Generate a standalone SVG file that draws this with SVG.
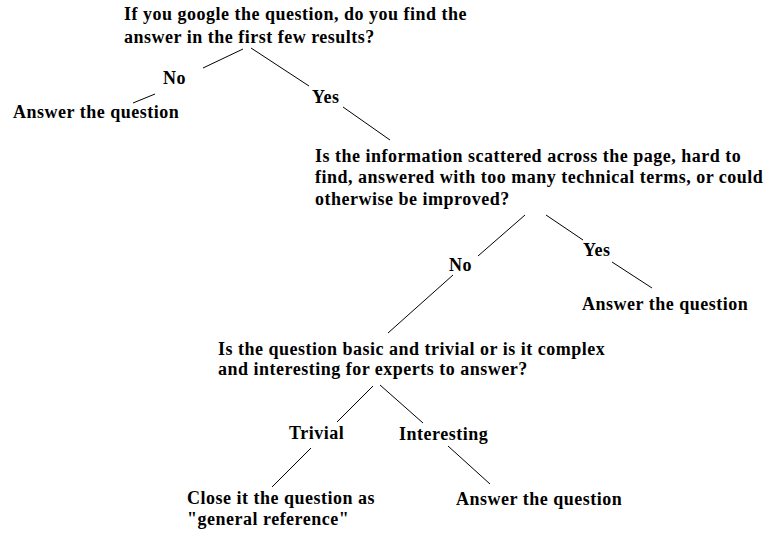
<svg xmlns="http://www.w3.org/2000/svg" width="770" height="537" viewBox="0 0 770 537">
<style>
text{font-family:"Liberation Serif","Times New Roman",serif;font-weight:bold;font-size:18px;fill:#000;letter-spacing:0.5px}
.c line{stroke:#000;stroke-width:1;fill:none}
</style>
<rect width="770" height="537" fill="#fff"/>
<g class="c" id="connectors">
<line x1="243" y1="49" x2="203" y2="68"/>
<line x1="251" y1="48" x2="309" y2="86"/>
<line x1="155" y1="94" x2="133" y2="103"/>
<line x1="343" y1="107" x2="390" y2="140"/>
<line x1="525" y1="215" x2="478" y2="256"/>
<line x1="546" y1="215" x2="583" y2="240"/>
<line x1="612" y1="262" x2="652" y2="288"/>
<line x1="453" y1="275" x2="388" y2="333"/>
<line x1="373" y1="386" x2="337" y2="422"/>
<line x1="380" y1="385" x2="423" y2="423"/>
<line x1="311" y1="448" x2="272" y2="487"/>
<line x1="448" y1="446" x2="490" y2="484"/>
</g>
<g id="q1"><text x="124" y="20">If you google the question, do you find the</text><text x="124" y="43">answer in the first few results?</text></g>
<g id="no1"><text x="163" y="84">No</text></g>
<g id="ans1"><text x="13" y="118">Answer the question</text></g>
<g id="yes1"><text x="312" y="103">Yes</text></g>
<g id="q2"><text x="315" y="162">Is the information scattered across the page, hard to</text><text x="315" y="183">find, answered with too many technical terms, or could</text><text x="315" y="205">otherwise be improved?</text></g>
<g id="yes2"><text x="583" y="256">Yes</text></g>
<g id="no2"><text x="449" y="271">No</text></g>
<g id="ans2"><text x="582" y="310">Answer the question</text></g>
<g id="q3"><text x="218" y="355">Is the question basic and trivial or is it complex</text><text x="218" y="375">and interesting for experts to answer?</text></g>
<g id="trivial"><text x="289" y="439">Trivial</text></g>
<g id="interesting"><text x="399" y="440">Interesting</text></g>
<g id="close"><text x="187" y="504">Close it the question as</text><text x="187" y="525">"general reference"</text></g>
<g id="ans3"><text x="456" y="505">Answer the question</text></g>
</svg>
